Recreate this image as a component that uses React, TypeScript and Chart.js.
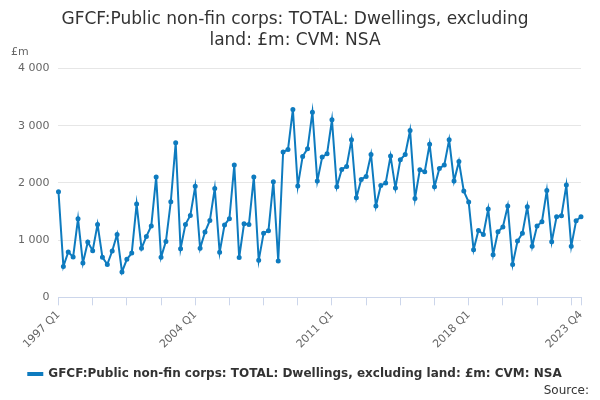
import { useEffect, useRef } from "react";
import Chart from "chart.js/auto";

const years = Array.from({ length: 27 }, (_, i) => 1997 + i);
const quarters = years.flatMap((y) => ["Q1", "Q2", "Q3", "Q4"].map((q) => `${y} ${q}`));

const values = [
  1846, 541, 792, 705, 1374, 600, 966, 815, 1275, 699, 576, 809, 1100, 443, 664, 775,
  1630, 856, 1065, 1246, 2102, 699, 978, 1671, 2702, 850, 1275, 1432, 1940, 856, 1140, 1345,
  1904, 786, 1264, 1374, 2311, 696, 1287, 1275, 2102, 646, 1118, 1165, 2021, 635, 2539, 2585,
  3284, 1945, 2463, 2597, 3237, 2032, 2451, 2510, 3103, 1933, 2236, 2288, 2754, 1741, 2061, 2114,
  2498, 1595, 1956, 1997, 2469, 1910, 2405, 2498, 2917, 1729, 2230, 2195, 2678, 1933, 2253, 2311,
  2754, 2032, 2376, 1857, 1665, 833, 1170, 1100, 1543, 746, 1147, 1229, 1595, 576, 984, 1118,
  1584, 891, 1246, 1322, 1869, 972, 1409, 1427, 1962, 891, 1339, 1409,
];

const seriesName = "GFCF:Public non-fin corps: TOTAL: Dwellings, excluding land: £m: CVM: NSA";
const shownLabels = ["1997 Q1", "2004 Q1", "2011 Q1", "2018 Q1", "2023 Q4"];
const color = "#0e7bbf";
const font = "DejaVu Sans";

export default function App() {
  const ref = useRef<HTMLCanvasElement | null>(null);
  useEffect(() => {
    const canvas = ref.current;
    if (!canvas) return;
    document.body.style.margin = "0";
    const chart = new Chart(canvas, {
      type: "line",
      data: {
        labels: quarters,
        datasets: [
          {
            label: seriesName,
            data: values,
            borderColor: color,
            backgroundColor: color,
            borderWidth: 2,
            pointRadius: 1.5,
            pointBackgroundColor: color,
            tension: 0,
          },
        ],
      },
      options: {
        animation: false,
        responsive: false,
        layout: { padding: { left: 9, right: 19, top: 0, bottom: 10 } },
        plugins: {
          title: {
            display: true,
            text: ["GFCF:Public non-fin corps: TOTAL: Dwellings, excluding", "land: £m: CVM: NSA"],
            color: "#333",
            font: { family: font, size: 17, weight: "normal", lineHeight: 1.25 },
            padding: { top: 9, bottom: 17 },
          },
          legend: {
            position: "bottom",
            labels: {
              color: "#333",
              font: { family: font, size: 12, weight: "bold" },
              boxWidth: 14,
              boxHeight: 2,
              padding: 14,
            },
          },
          tooltip: { enabled: false },
        },
        scales: {
          x: {
            grid: {
              drawOnChartArea: false,
              tickLength: 8,
              color: (c) => (c.index % 7 === 0 || c.index === 107 ? "#ccd6eb" : "transparent"),
            },
            border: { color: "#ccd6eb" },
            ticks: {
              autoSkip: false,
              maxRotation: 45,
              minRotation: 45,
              color: "#666",
              font: { family: font, size: 11 },
              callback: (v) => {
                const l = quarters[v as number];
                return shownLabels.includes(l) ? l : "";
              },
            },
          },
          y: {
            min: 0,
            max: 4000,
            border: { display: false },
            grid: { color: "#e6e6e6", drawTicks: false },
            ticks: {
              stepSize: 1000,
              padding: 9,
              color: "#666",
              font: { family: font, size: 11 },
              callback: (v) => String(v).replace(/\B(?=(\d{3})+(?!\d))/g, " "),
            },
          },
        },
      },
    });
    return () => chart.destroy();
  }, []);

  return (
    <div style={{ position: "relative", width: 600, height: 400, fontFamily: font }}>
      <canvas ref={ref} width={600} height={400} />
      <div style={{ position: "absolute", left: 11, top: 45, fontSize: 11, color: "#666" }}>£m</div>
      <div style={{ position: "absolute", right: 11, top: 383, fontSize: 12, color: "#333" }}>Source:</div>
    </div>
  );
}
